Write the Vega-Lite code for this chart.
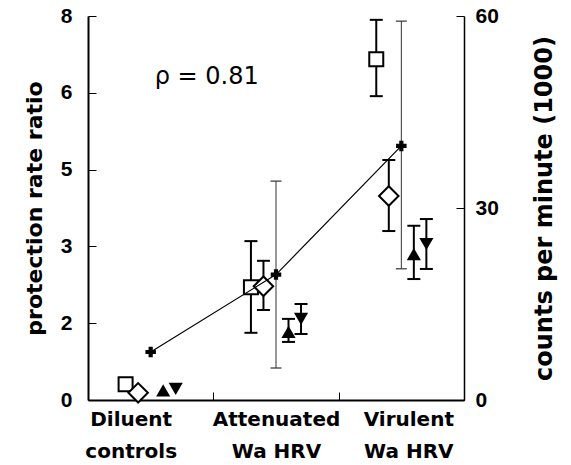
{
  "$schema": "https://vega.github.io/schema/vega-lite/v6.json",
  "width": 376,
  "height": 384,
  "autosize": "none",
  "padding": {"left": 88, "top": 16, "right": 107, "bottom": 65},
  "background": "white",
  "config": {
    "view": {"stroke": null},
    "axis": {"grid": false, "domainColor": "black", "tickColor": "black", "labelColor": "black", "titleColor": "black"}
  },
  "datasets": {
    "ratio": [
      {"group": "Diluent controls", "series": "square", "ratio": 0.33, "lo": null, "hi": null},
      {"group": "Diluent controls", "series": "diamond", "ratio": 0.15, "lo": null, "hi": null},
      {"group": "Diluent controls", "series": "up", "ratio": 0.2, "lo": null, "hi": null},
      {"group": "Diluent controls", "series": "down", "ratio": 0.23, "lo": null, "hi": null},
      {"group": "Attenuated Wa HRV", "series": "square", "ratio": 2.35, "lo": 1.4, "hi": 3.31},
      {"group": "Attenuated Wa HRV", "series": "diamond", "ratio": 2.37, "lo": 1.875, "hi": 2.9},
      {"group": "Attenuated Wa HRV", "series": "up", "ratio": 1.42, "lo": 1.21, "hi": 1.69},
      {"group": "Attenuated Wa HRV", "series": "down", "ratio": 1.69, "lo": 1.375, "hi": 2.0},
      {"group": "Virulent Wa HRV", "series": "square", "ratio": 7.1, "lo": 6.33, "hi": 7.92},
      {"group": "Virulent Wa HRV", "series": "diamond", "ratio": 4.25, "lo": 3.52, "hi": 5.0},
      {"group": "Virulent Wa HRV", "series": "up", "ratio": 3.04, "lo": 2.52, "hi": 3.63},
      {"group": "Virulent Wa HRV", "series": "down", "ratio": 3.25, "lo": 2.73, "hi": 3.77}
    ],
    "cpm": [
      {"group": "Diluent controls", "cpm": 7.5, "lo": null, "hi": null},
      {"group": "Attenuated Wa HRV", "cpm": 19.6, "lo": 5.0, "hi": 34.2},
      {"group": "Virulent Wa HRV", "cpm": 39.7, "lo": 20.5, "hi": 59.2}
    ],
    "note": [
      {"group": "Diluent controls", "ratio": 6.73, "label": "ρ = 0.81"}
    ]
  },
  "layer": [
    {
      "data": {"name": "ratio"},
      "encoding": {
        "x": {
          "field": "group", "type": "nominal", "sort": null,
          "scale": {"domain": ["Diluent controls", "Attenuated Wa HRV", "Virulent Wa HRV"], "paddingInner": 0, "paddingOuter": 0},
          "axis": {
            "title": null,
            "tickBand": "extent",
            "tickSize": -8,
            "tickWidth": 1,
            "domainWidth": 2,
            "labelAngle": 0,
            "labelFont": "DejaVu Sans",
            "labelFontWeight": "bold",
            "labelFontSize": 20,
            "labelLineHeight": 32,
            "labelBaseline": "top",
            "labelPadding": 17,
            "labelExpr": "datum.value == 'Diluent controls' ? ['Diluent', 'controls'] : datum.value == 'Attenuated Wa HRV' ? ['Attenuated', 'Wa HRV'] : datum.value == 'Virulent Wa HRV' ? ['Virulent', 'Wa HRV'] : ''",
            "labelOffset": {"condition": [{"test": "datum.value == 'Diluent controls'", "value": -20}, {"test": "datum.value == 'Virulent Wa HRV'", "value": 7}], "value": 0}
          }
        },
        "y": {
          "field": "ratio", "type": "quantitative",
          "scale": {"domain": [0, 8], "nice": false},
          "axis": {
            "orient": "left",
            "title": "protection rate ratio",
            "values": [0, 1.6, 3.2, 4.8, 6.4, 8],
            "labelExpr": "round(datum.value)",
            "tickSize": -8,
            "tickWidth": 1,
            "domainWidth": 2,
            "labelFont": "Liberation Sans",
            "labelFontWeight": "bold",
            "labelFontSize": 21,
            "labelPadding": 24,
            "titleFont": "DejaVu Sans",
            "titleFontWeight": "bold",
            "titleFontSize": 22,
            "titlePadding": 14
          }
        }
      },
      "layer": [
        {
          "transform": [{"filter": "isValid(datum.lo)"}],
          "mark": {"type": "rule", "strokeWidth": 2, "color": "black"},
          "encoding": {
            "xOffset": {"field": "series", "type": "nominal", "scale": {"type": "point", "domain": ["square", "diamond", "plus", "up", "down"], "padding": 0, "range": [37.6, 87.7]}},
            "y": {"field": "lo", "type": "quantitative", "title": "protection rate ratio"},
            "y2": {"field": "hi"}
          }
        },
        {
          "transform": [{"filter": "isValid(datum.lo)"}],
          "mark": {"type": "tick", "size": 13, "thickness": 2, "color": "black", "opacity": 1},
          "encoding": {
            "xOffset": {"field": "series", "type": "nominal"},
            "y": {"field": "lo", "type": "quantitative", "title": "protection rate ratio"}
          }
        },
        {
          "transform": [{"filter": "isValid(datum.hi)"}],
          "mark": {"type": "tick", "size": 13, "thickness": 2, "color": "black", "opacity": 1},
          "encoding": {
            "xOffset": {"field": "series", "type": "nominal"},
            "y": {"field": "hi", "type": "quantitative", "title": "protection rate ratio"}
          }
        },
        {
          "transform": [{"filter": "datum.series == 'square'"}],
          "mark": {"type": "point", "shape": "square", "size": 196, "fill": "white", "stroke": "black", "strokeWidth": 2, "opacity": 1, "filled": false},
          "encoding": {"xOffset": {"field": "series", "type": "nominal"}}
        },
        {
          "transform": [{"filter": "datum.series == 'diamond'"}],
          "mark": {"type": "point", "shape": "diamond", "size": 380, "fill": "white", "stroke": "black", "strokeWidth": 2, "opacity": 1, "filled": false},
          "encoding": {"xOffset": {"field": "series", "type": "nominal"}}
        },
        {
          "transform": [{"filter": "datum.series == 'up'"}],
          "mark": {"type": "point", "shape": "triangle-up", "size": 200, "filled": true, "color": "black", "opacity": 1},
          "encoding": {"xOffset": {"field": "series", "type": "nominal"}}
        },
        {
          "transform": [{"filter": "datum.series == 'down'"}],
          "mark": {"type": "point", "shape": "triangle-down", "size": 200, "filled": true, "color": "black", "opacity": 1},
          "encoding": {"xOffset": {"field": "series", "type": "nominal"}}
        },
        {
          "data": {"name": "note"},
          "mark": {"type": "text", "align": "left", "baseline": "middle", "font": "DejaVu Sans", "fontSize": 24, "dx": 4, "color": "black"},
          "encoding": {"text": {"field": "label"}}
        }
      ]
    },
    {
      "data": {"name": "cpm"},
      "encoding": {
        "x": {"field": "group", "type": "nominal", "sort": null},
        "y": {
          "field": "cpm", "type": "quantitative",
          "scale": {"domain": [0, 60], "nice": false},
          "axis": {
            "orient": "right",
            "title": "counts per minute   (1000)",
            "values": [0, 30, 60],
            "tickSize": -8,
            "tickWidth": 1,
            "domainWidth": 1.5,
            "labelFont": "Liberation Sans",
            "labelFontWeight": "bold",
            "labelFontSize": 21,
            "labelPadding": 19,
            "titleAngle": 270,
            "titleFont": "DejaVu Sans",
            "titleFontWeight": "bold",
            "titleFontSize": 24,
            "titlePadding": 58
          }
        }
      },
      "layer": [
        {
          "transform": [{"filter": "isValid(datum.lo)"}],
          "mark": {"type": "rule", "strokeWidth": 1, "color": "#333333"},
          "encoding": {"y": {"field": "lo", "type": "quantitative", "title": "counts per minute   (1000)"}, "y2": {"field": "hi"}}
        },
        {
          "transform": [{"filter": "isValid(datum.lo)"}],
          "mark": {"type": "tick", "size": 11, "thickness": 1.2, "color": "#333333", "opacity": 1},
          "encoding": {"y": {"field": "lo", "type": "quantitative", "title": "counts per minute   (1000)"}}
        },
        {
          "transform": [{"filter": "isValid(datum.hi)"}],
          "mark": {"type": "tick", "size": 11, "thickness": 1.2, "color": "#333333", "opacity": 1},
          "encoding": {"y": {"field": "hi", "type": "quantitative", "title": "counts per minute   (1000)"}}
        },
        {
          "mark": {"type": "line", "strokeWidth": 1.2, "color": "black"},
          "encoding": {}
        },
        {
          "mark": {"type": "point", "shape": "cross", "size": 110, "filled": true, "color": "black", "opacity": 1},
          "encoding": {}
        }
      ]
    }
  ],
  "resolve": {"scale": {"y": "independent"}}
}
